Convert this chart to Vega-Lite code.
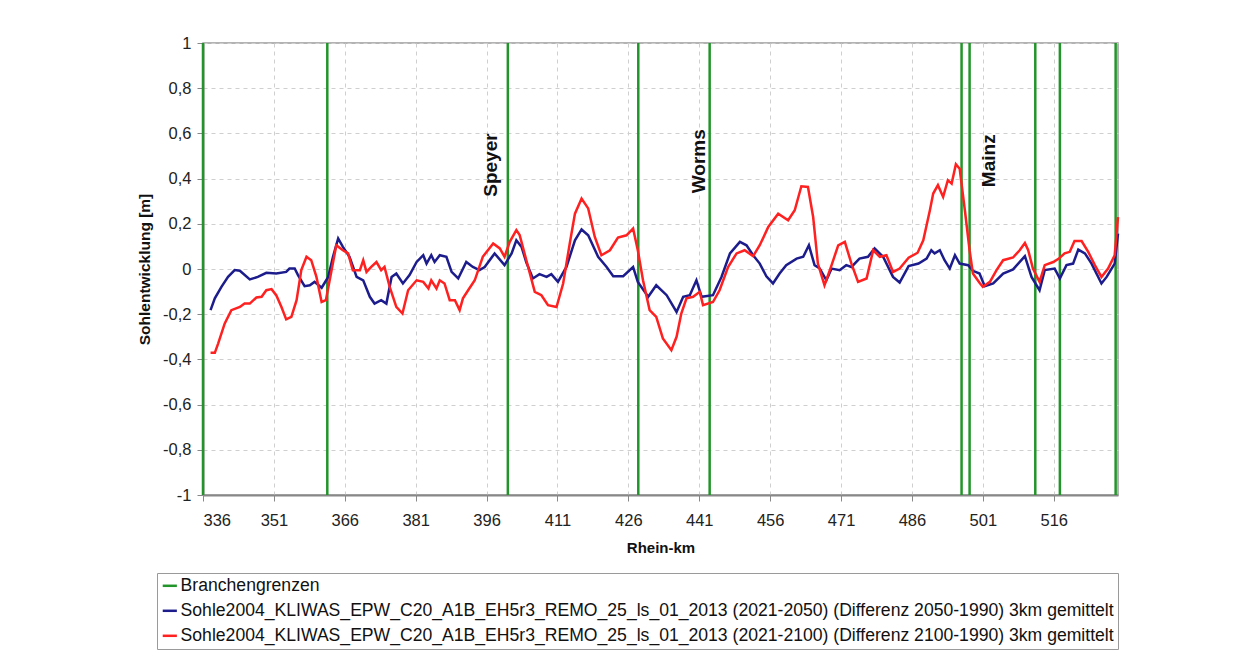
{
  "$schema": "https://vega.github.io/schema/vega-lite/v6.json",
  "width": 915,
  "height": 452,
  "autosize": {"type": "none"},
  "padding": {"left": 203, "top": 43, "right": 141, "bottom": 177},
  "background": "white",
  "config": {
    "view": {"stroke": "#9a9a9a", "strokeWidth": 1.5},
    "font": "Liberation Sans",
    "axis": {
      "labelFont": "Liberation Sans",
      "labelFontSize": 16.5,
      "labelColor": "#222",
      "titleFont": "Liberation Sans",
      "titleFontWeight": "bold",
      "titleColor": "#111",
      "tickColor": "#888",
      "tickSize": 6,
      "domainColor": "#888",
      "domainWidth": 2,
      "gridColor": "#cfcfcf",
      "gridDash": [4, 4],
      "gridWidth": 1
    }
  },
  "datasets": {
    "bounds": [
      {"km": 336.0, "series": "A"},
      {"km": 362.3, "series": "A"},
      {"km": 400.5, "series": "A"},
      {"km": 428.1, "series": "A"},
      {"km": 443.2, "series": "A"},
      {"km": 496.5, "series": "A"},
      {"km": 498.2, "series": "A"},
      {"km": 512.1, "series": "A"},
      {"km": 517.3, "series": "A"},
      {"km": 529.1, "series": "A"}
    ],
    "cities": [
      {"km": 397.0, "v": 0.46, "name": "Speyer"},
      {"km": 441.0, "v": 0.477, "name": "Worms"},
      {"km": 502.4, "v": 0.479, "name": "Mainz"}
    ],
    "blue": [
      {"km": 337.6, "v": -0.182, "series": "B"},
      {"km": 338.5, "v": -0.13, "series": "B"},
      {"km": 339.9, "v": -0.079, "series": "B"},
      {"km": 341.3, "v": -0.035, "series": "B"},
      {"km": 342.7, "v": -0.005, "series": "B"},
      {"km": 343.8, "v": -0.008, "series": "B"},
      {"km": 345.9, "v": -0.046, "series": "B"},
      {"km": 347.6, "v": -0.035, "series": "B"},
      {"km": 349.4, "v": -0.017, "series": "B"},
      {"km": 351.5, "v": -0.02, "series": "B"},
      {"km": 353.6, "v": -0.013, "series": "B"},
      {"km": 354.3, "v": 0.002, "series": "B"},
      {"km": 355.4, "v": 0.002, "series": "B"},
      {"km": 356.1, "v": -0.027, "series": "B"},
      {"km": 357.5, "v": -0.076, "series": "B"},
      {"km": 358.6, "v": -0.072, "series": "B"},
      {"km": 359.6, "v": -0.057, "series": "B"},
      {"km": 361.1, "v": -0.083, "series": "B"},
      {"km": 362.5, "v": -0.035, "series": "B"},
      {"km": 363.5, "v": 0.054, "series": "B"},
      {"km": 364.6, "v": 0.135, "series": "B"},
      {"km": 365.6, "v": 0.098, "series": "B"},
      {"km": 367.0, "v": 0.054, "series": "B"},
      {"km": 368.5, "v": -0.035, "series": "B"},
      {"km": 369.9, "v": -0.05, "series": "B"},
      {"km": 371.3, "v": -0.123, "series": "B"},
      {"km": 372.3, "v": -0.153, "series": "B"},
      {"km": 373.7, "v": -0.138, "series": "B"},
      {"km": 374.8, "v": -0.153, "series": "B"},
      {"km": 375.9, "v": -0.035, "series": "B"},
      {"km": 376.9, "v": -0.02, "series": "B"},
      {"km": 378.3, "v": -0.064, "series": "B"},
      {"km": 379.7, "v": -0.027, "series": "B"},
      {"km": 381.2, "v": 0.031, "series": "B"},
      {"km": 382.6, "v": 0.061, "series": "B"},
      {"km": 383.3, "v": 0.024, "series": "B"},
      {"km": 384.3, "v": 0.061, "series": "B"},
      {"km": 385.0, "v": 0.031, "series": "B"},
      {"km": 386.1, "v": 0.061, "series": "B"},
      {"km": 387.5, "v": 0.054, "series": "B"},
      {"km": 388.6, "v": -0.013, "series": "B"},
      {"km": 390.0, "v": -0.042, "series": "B"},
      {"km": 391.7, "v": 0.031, "series": "B"},
      {"km": 393.1, "v": 0.009, "series": "B"},
      {"km": 394.5, "v": -0.005, "series": "B"},
      {"km": 395.6, "v": 0.009, "series": "B"},
      {"km": 397.7, "v": 0.069, "series": "B"},
      {"km": 399.8, "v": 0.017, "series": "B"},
      {"km": 401.3, "v": 0.069, "series": "B"},
      {"km": 402.3, "v": 0.127, "series": "B"},
      {"km": 403.4, "v": 0.098, "series": "B"},
      {"km": 404.4, "v": 0.03, "series": "B"},
      {"km": 405.8, "v": -0.042, "series": "B"},
      {"km": 407.2, "v": -0.023, "series": "B"},
      {"km": 408.7, "v": -0.035, "series": "B"},
      {"km": 409.7, "v": -0.023, "series": "B"},
      {"km": 411.1, "v": -0.057, "series": "B"},
      {"km": 412.9, "v": 0.009, "series": "B"},
      {"km": 414.7, "v": 0.127, "series": "B"},
      {"km": 416.1, "v": 0.175, "series": "B"},
      {"km": 417.5, "v": 0.149, "series": "B"},
      {"km": 419.6, "v": 0.054, "series": "B"},
      {"km": 421.4, "v": 0.009, "series": "B"},
      {"km": 422.8, "v": -0.032, "series": "B"},
      {"km": 424.9, "v": -0.032, "series": "B"},
      {"km": 427.0, "v": 0.009, "series": "B"},
      {"km": 428.0, "v": -0.057, "series": "B"},
      {"km": 430.2, "v": -0.123, "series": "B"},
      {"km": 431.9, "v": -0.072, "series": "B"},
      {"km": 434.1, "v": -0.116, "series": "B"},
      {"km": 436.2, "v": -0.19, "series": "B"},
      {"km": 437.6, "v": -0.123, "series": "B"},
      {"km": 439.0, "v": -0.116, "series": "B"},
      {"km": 440.4, "v": -0.05, "series": "B"},
      {"km": 441.5, "v": -0.123, "series": "B"},
      {"km": 443.9, "v": -0.116, "series": "B"},
      {"km": 445.7, "v": -0.035, "series": "B"},
      {"km": 447.5, "v": 0.069, "series": "B"},
      {"km": 449.6, "v": 0.12, "series": "B"},
      {"km": 451.0, "v": 0.105, "series": "B"},
      {"km": 452.4, "v": 0.061, "series": "B"},
      {"km": 453.8, "v": 0.024, "series": "B"},
      {"km": 455.2, "v": -0.032, "series": "B"},
      {"km": 456.6, "v": -0.064, "series": "B"},
      {"km": 458.0, "v": -0.02, "series": "B"},
      {"km": 459.4, "v": 0.017, "series": "B"},
      {"km": 461.6, "v": 0.046, "series": "B"},
      {"km": 463.0, "v": 0.054, "series": "B"},
      {"km": 464.2, "v": 0.105, "series": "B"},
      {"km": 465.4, "v": 0.017, "series": "B"},
      {"km": 466.5, "v": 0.002, "series": "B"},
      {"km": 467.9, "v": -0.05, "series": "B"},
      {"km": 469.0, "v": 0.002, "series": "B"},
      {"km": 470.7, "v": -0.005, "series": "B"},
      {"km": 472.1, "v": 0.017, "series": "B"},
      {"km": 473.2, "v": 0.009, "series": "B"},
      {"km": 474.9, "v": 0.046, "series": "B"},
      {"km": 476.7, "v": 0.054, "series": "B"},
      {"km": 478.1, "v": 0.091, "series": "B"},
      {"km": 479.9, "v": 0.054, "series": "B"},
      {"km": 482.0, "v": -0.035, "series": "B"},
      {"km": 483.4, "v": -0.06, "series": "B"},
      {"km": 485.3, "v": 0.013, "series": "B"},
      {"km": 487.4, "v": 0.024, "series": "B"},
      {"km": 489.1, "v": 0.046, "series": "B"},
      {"km": 490.1, "v": 0.083, "series": "B"},
      {"km": 490.8, "v": 0.069, "series": "B"},
      {"km": 491.9, "v": 0.083, "series": "B"},
      {"km": 492.9, "v": 0.039, "series": "B"},
      {"km": 494.0, "v": 0.002, "series": "B"},
      {"km": 495.1, "v": 0.061, "series": "B"},
      {"km": 496.1, "v": 0.024, "series": "B"},
      {"km": 497.9, "v": 0.017, "series": "B"},
      {"km": 498.9, "v": -0.008, "series": "B"},
      {"km": 500.3, "v": -0.02, "series": "B"},
      {"km": 501.4, "v": -0.076, "series": "B"},
      {"km": 503.2, "v": -0.064, "series": "B"},
      {"km": 505.3, "v": -0.02, "series": "B"},
      {"km": 507.4, "v": -0.002, "series": "B"},
      {"km": 509.9, "v": 0.057, "series": "B"},
      {"km": 511.3, "v": -0.035, "series": "B"},
      {"km": 513.0, "v": -0.094, "series": "B"},
      {"km": 514.1, "v": -0.005, "series": "B"},
      {"km": 516.2, "v": 0.002, "series": "B"},
      {"km": 517.3, "v": -0.042, "series": "B"},
      {"km": 518.7, "v": 0.017, "series": "B"},
      {"km": 520.1, "v": 0.024, "series": "B"},
      {"km": 521.2, "v": 0.086, "series": "B"},
      {"km": 522.6, "v": 0.069, "series": "B"},
      {"km": 524.0, "v": 0.024, "series": "B"},
      {"km": 526.1, "v": -0.064, "series": "B"},
      {"km": 527.2, "v": -0.035, "series": "B"},
      {"km": 528.9, "v": 0.024, "series": "B"},
      {"km": 529.6, "v": 0.157, "series": "B"}
    ],
    "red": [
      {"km": 337.6, "v": -0.371, "series": "C"},
      {"km": 338.5, "v": -0.371, "series": "C"},
      {"km": 339.2, "v": -0.33, "series": "C"},
      {"km": 340.6, "v": -0.241, "series": "C"},
      {"km": 342.0, "v": -0.182, "series": "C"},
      {"km": 343.8, "v": -0.168, "series": "C"},
      {"km": 344.8, "v": -0.153, "series": "C"},
      {"km": 345.9, "v": -0.153, "series": "C"},
      {"km": 347.3, "v": -0.126, "series": "C"},
      {"km": 348.4, "v": -0.123, "series": "C"},
      {"km": 349.4, "v": -0.094, "series": "C"},
      {"km": 350.5, "v": -0.089, "series": "C"},
      {"km": 351.5, "v": -0.116, "series": "C"},
      {"km": 352.6, "v": -0.168, "series": "C"},
      {"km": 353.6, "v": -0.223, "series": "C"},
      {"km": 354.7, "v": -0.212, "series": "C"},
      {"km": 355.8, "v": -0.138, "series": "C"},
      {"km": 356.8, "v": -0.005, "series": "C"},
      {"km": 357.9, "v": 0.054, "series": "C"},
      {"km": 358.9, "v": 0.039, "series": "C"},
      {"km": 360.0, "v": -0.035, "series": "C"},
      {"km": 361.1, "v": -0.146, "series": "C"},
      {"km": 362.0, "v": -0.138, "series": "C"},
      {"km": 362.8, "v": -0.05, "series": "C"},
      {"km": 364.2, "v": 0.105, "series": "C"},
      {"km": 365.6, "v": 0.083, "series": "C"},
      {"km": 366.7, "v": 0.069, "series": "C"},
      {"km": 367.7, "v": -0.005, "series": "C"},
      {"km": 369.2, "v": -0.005, "series": "C"},
      {"km": 369.9, "v": 0.039, "series": "C"},
      {"km": 370.6, "v": -0.013, "series": "C"},
      {"km": 371.6, "v": 0.009, "series": "C"},
      {"km": 372.7, "v": 0.031, "series": "C"},
      {"km": 373.7, "v": -0.005, "series": "C"},
      {"km": 374.4, "v": 0.009, "series": "C"},
      {"km": 375.5, "v": -0.079, "series": "C"},
      {"km": 376.9, "v": -0.168, "series": "C"},
      {"km": 378.2, "v": -0.197, "series": "C"},
      {"km": 379.4, "v": -0.094, "series": "C"},
      {"km": 381.2, "v": -0.05, "series": "C"},
      {"km": 382.6, "v": -0.057, "series": "C"},
      {"km": 383.7, "v": -0.086, "series": "C"},
      {"km": 384.3, "v": -0.05, "series": "C"},
      {"km": 385.4, "v": -0.086, "series": "C"},
      {"km": 386.1, "v": -0.05, "series": "C"},
      {"km": 387.1, "v": -0.064, "series": "C"},
      {"km": 388.2, "v": -0.138, "series": "C"},
      {"km": 389.3, "v": -0.138, "series": "C"},
      {"km": 390.3, "v": -0.182, "series": "C"},
      {"km": 391.0, "v": -0.13, "series": "C"},
      {"km": 392.1, "v": -0.094, "series": "C"},
      {"km": 393.5, "v": -0.05, "series": "C"},
      {"km": 395.2, "v": 0.054, "series": "C"},
      {"km": 397.4, "v": 0.113, "series": "C"},
      {"km": 398.8, "v": 0.091, "series": "C"},
      {"km": 399.8, "v": 0.054, "series": "C"},
      {"km": 400.9, "v": 0.12, "series": "C"},
      {"km": 402.3, "v": 0.172, "series": "C"},
      {"km": 403.0, "v": 0.15, "series": "C"},
      {"km": 404.4, "v": 0.04, "series": "C"},
      {"km": 406.2, "v": -0.101, "series": "C"},
      {"km": 407.6, "v": -0.116, "series": "C"},
      {"km": 409.0, "v": -0.16, "series": "C"},
      {"km": 410.8, "v": -0.168, "series": "C"},
      {"km": 412.2, "v": -0.064, "series": "C"},
      {"km": 413.6, "v": 0.113, "series": "C"},
      {"km": 414.7, "v": 0.245, "series": "C"},
      {"km": 416.1, "v": 0.312, "series": "C"},
      {"km": 417.5, "v": 0.268, "series": "C"},
      {"km": 418.9, "v": 0.142, "series": "C"},
      {"km": 420.3, "v": 0.061, "series": "C"},
      {"km": 422.1, "v": 0.083, "series": "C"},
      {"km": 423.8, "v": 0.139, "series": "C"},
      {"km": 425.6, "v": 0.149, "series": "C"},
      {"km": 427.0, "v": 0.179, "series": "C"},
      {"km": 428.0, "v": 0.083, "series": "C"},
      {"km": 429.1, "v": -0.05, "series": "C"},
      {"km": 430.5, "v": -0.182, "series": "C"},
      {"km": 431.9, "v": -0.212, "series": "C"},
      {"km": 433.3, "v": -0.307, "series": "C"},
      {"km": 435.1, "v": -0.359, "series": "C"},
      {"km": 436.2, "v": -0.3, "series": "C"},
      {"km": 437.2, "v": -0.197, "series": "C"},
      {"km": 438.3, "v": -0.13, "series": "C"},
      {"km": 439.7, "v": -0.123, "series": "C"},
      {"km": 441.1, "v": -0.101, "series": "C"},
      {"km": 441.8, "v": -0.16, "series": "C"},
      {"km": 443.9, "v": -0.146, "series": "C"},
      {"km": 445.3, "v": -0.094, "series": "C"},
      {"km": 447.1, "v": 0.009, "series": "C"},
      {"km": 448.9, "v": 0.069, "series": "C"},
      {"km": 450.6, "v": 0.083, "series": "C"},
      {"km": 452.4, "v": 0.057, "series": "C"},
      {"km": 453.8, "v": 0.105, "series": "C"},
      {"km": 455.6, "v": 0.186, "series": "C"},
      {"km": 457.7, "v": 0.245, "series": "C"},
      {"km": 459.8, "v": 0.216, "series": "C"},
      {"km": 461.2, "v": 0.26, "series": "C"},
      {"km": 462.6, "v": 0.366, "series": "C"},
      {"km": 464.0, "v": 0.363, "series": "C"},
      {"km": 465.1, "v": 0.23, "series": "C"},
      {"km": 466.1, "v": 0.024, "series": "C"},
      {"km": 467.5, "v": -0.072, "series": "C"},
      {"km": 469.0, "v": 0.017, "series": "C"},
      {"km": 470.4, "v": 0.105, "series": "C"},
      {"km": 471.8, "v": 0.12, "series": "C"},
      {"km": 473.2, "v": 0.024, "series": "C"},
      {"km": 474.6, "v": -0.057, "series": "C"},
      {"km": 476.4, "v": -0.042, "series": "C"},
      {"km": 477.8, "v": 0.083, "series": "C"},
      {"km": 479.2, "v": 0.054, "series": "C"},
      {"km": 480.6, "v": 0.061, "series": "C"},
      {"km": 482.0, "v": -0.013, "series": "C"},
      {"km": 483.4, "v": 0.002, "series": "C"},
      {"km": 485.3, "v": 0.05, "series": "C"},
      {"km": 487.2, "v": 0.072, "series": "C"},
      {"km": 488.4, "v": 0.127, "series": "C"},
      {"km": 489.8, "v": 0.26, "series": "C"},
      {"km": 490.5, "v": 0.334, "series": "C"},
      {"km": 491.5, "v": 0.371, "series": "C"},
      {"km": 492.6, "v": 0.319, "series": "C"},
      {"km": 493.6, "v": 0.393, "series": "C"},
      {"km": 494.4, "v": 0.378, "series": "C"},
      {"km": 495.3, "v": 0.464, "series": "C"},
      {"km": 496.1, "v": 0.444, "series": "C"},
      {"km": 497.2, "v": 0.26, "series": "C"},
      {"km": 498.2, "v": 0.083, "series": "C"},
      {"km": 498.9, "v": -0.02, "series": "C"},
      {"km": 500.3, "v": -0.061, "series": "C"},
      {"km": 501.0, "v": -0.079, "series": "C"},
      {"km": 502.5, "v": -0.057, "series": "C"},
      {"km": 503.9, "v": -0.005, "series": "C"},
      {"km": 505.3, "v": 0.039, "series": "C"},
      {"km": 507.4, "v": 0.051, "series": "C"},
      {"km": 508.8, "v": 0.083, "series": "C"},
      {"km": 509.9, "v": 0.115, "series": "C"},
      {"km": 510.6, "v": 0.083, "series": "C"},
      {"km": 511.6, "v": 0.002, "series": "C"},
      {"km": 513.0, "v": -0.057, "series": "C"},
      {"km": 514.1, "v": 0.017, "series": "C"},
      {"km": 515.9, "v": 0.031, "series": "C"},
      {"km": 517.1, "v": 0.046, "series": "C"},
      {"km": 518.3, "v": 0.069, "series": "C"},
      {"km": 519.4, "v": 0.076, "series": "C"},
      {"km": 520.4, "v": 0.124, "series": "C"},
      {"km": 521.9, "v": 0.124, "series": "C"},
      {"km": 523.3, "v": 0.076, "series": "C"},
      {"km": 524.7, "v": 0.017, "series": "C"},
      {"km": 526.1, "v": -0.035, "series": "C"},
      {"km": 527.5, "v": 0.002, "series": "C"},
      {"km": 528.9, "v": 0.061, "series": "C"},
      {"km": 529.6, "v": 0.23, "series": "C"}
    ]
  },
  "layer": [
    {
      "data": {"name": "bounds"},
      "mark": {"type": "rule", "strokeWidth": 2.5},
      "encoding": {
        "x": {
          "field": "km",
          "type": "quantitative",
          "scale": {"domain": [336, 529.6], "nice": false, "zero": false},
          "axis": {
            "values": [336, 351, 366, 381, 396, 411, 426, 441, 456, 471, 486, 501, 516],
            "format": "d",
            "title": "Rhein-km",
            "titleFontSize": 15,
            "titlePadding": 12,
            "labelPadding": 11,
            "grid": true
          }
        },
        "color": {
          "field": "series",
          "type": "nominal",
          "scale": {"domain": ["A", "B", "C"], "range": ["#22952a", "#1c1c8c", "#ff2020"]},
          "legend": {
            "orient": "none",
            "legendX": -46,
            "legendY": 530,
            "title": null,
            "symbolType": "stroke",
            "symbolStrokeWidth": 2.5,
            "symbolSize": 200,
            "labelFont": "Liberation Sans",
            "labelFontSize": 17.6,
            "labelColor": "#111",
            "labelLimit": 2000,
            "labelOffset": 2,
            "rowPadding": 6,
            "strokeColor": "#9a9a9a",
            "padding": 4,
            "labelExpr": "datum.label == 'A' ? 'Branchengrenzen' : datum.label == 'B' ? 'Sohle2004_KLIWAS_EPW_C20_A1B_EH5r3_REMO_25_ls_01_2013 (2021-2050) (Differenz 2050-1990) 3km gemittelt' : 'Sohle2004_KLIWAS_EPW_C20_A1B_EH5r3_REMO_25_ls_01_2013 (2021-2100) (Differenz 2100-1990) 3km gemittelt'"
          }
        }
      }
    },
    {
      "data": {"name": "blue"},
      "mark": {"type": "line", "strokeWidth": 2.5},
      "encoding": {
        "x": {"field": "km", "type": "quantitative"},
        "y": {
          "field": "v",
          "type": "quantitative",
          "scale": {"domain": [-1, 1], "nice": false, "zero": false},
          "axis": {
            "values": [-1, -0.8, -0.6, -0.4, -0.2, 0, 0.2, 0.4, 0.6, 0.8, 1],
            "labelExpr": "replace(toString(datum.value), '.', ',')",
            "title": "Sohlentwicklung [m]",
            "titleFontSize": 15.5,
            "titlePadding": 10,
            "labelPadding": 6,
            "grid": true
          }
        },
        "color": {"field": "series", "type": "nominal"}
      }
    },
    {
      "data": {"name": "red"},
      "mark": {"type": "line", "strokeWidth": 2.5},
      "encoding": {
        "x": {"field": "km", "type": "quantitative"},
        "y": {"field": "v", "type": "quantitative"},
        "color": {"field": "series", "type": "nominal"}
      }
    },
    {
      "data": {"name": "cities"},
      "mark": {"type": "text", "angle": 270, "font": "Liberation Sans", "fontWeight": "bold", "fontSize": 19, "color": "#111", "align": "center", "baseline": "middle"},
      "encoding": {
        "x": {"field": "km", "type": "quantitative"},
        "y": {"field": "v", "type": "quantitative"},
        "text": {"field": "name"}
      }
    }
  ]
}
